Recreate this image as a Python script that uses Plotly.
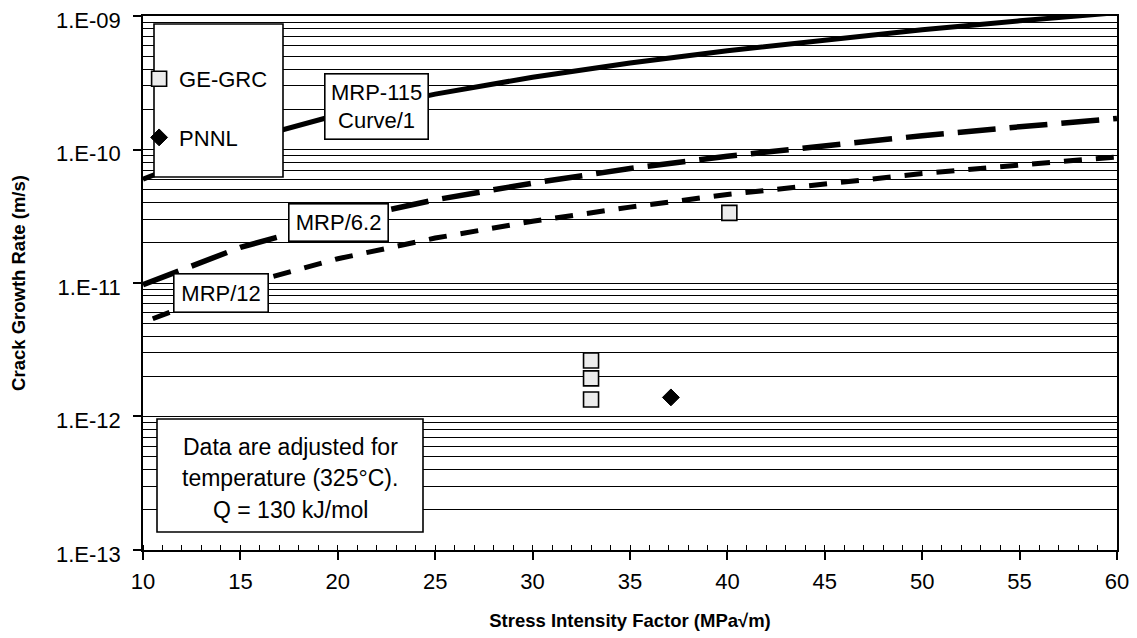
import plotly.graph_objects as go

# ---- data ----
k_curve = [10, 15, 20, 25, 30, 35, 40, 45, 50, 55, 60]
mrp115_rate = [6.0e-11, 1.15e-10, 1.82e-10, 2.6e-10, 3.48e-10, 4.45e-10,
               5.5e-10, 6.65e-10, 7.9e-10, 9.2e-10, 1.06e-9]
mrp62_rate = [9.7e-12, 1.85e-11, 2.93e-11, 4.2e-11, 5.6e-11, 7.2e-11,
              8.9e-11, 1.07e-10, 1.27e-10, 1.48e-10, 1.71e-10]
k_curve12 = [10.5, 15, 20, 25, 30, 35, 40, 45, 50, 55, 60]
mrp12_rate = [5.4e-12, 9.6e-12, 1.52e-11, 2.17e-11, 2.9e-11, 3.7e-11,
              4.6e-11, 5.55e-11, 6.6e-11, 7.65e-11, 8.8e-11]

ge_k = [33.0, 33.0, 33.0, 40.1]
ge_rate = [2.63e-12, 1.93e-12, 1.34e-12, 3.35e-11]
pnnl_k = [37.1]
pnnl_rate = [1.39e-12]

y_major_vals = [1e-13, 1e-12, 1e-11, 1e-10, 1e-9]
y_major_text = ["1.E-13", "1.E-12", "1.E-11", "1.E-10", "1.E-09"]
y_minor_vals = [m * 10.0 ** e for e in range(-13, -9) for m in range(2, 10)]

FONT = "Liberation Sans, Arial, sans-serif"

fig = go.Figure()
fig.add_trace(go.Scatter(x=k_curve, y=mrp115_rate, mode="lines",
                         line=dict(color="black", width=5), showlegend=False,
                         name="MRP-115 Curve/1"))
fig.add_trace(go.Scatter(x=k_curve, y=mrp62_rate, mode="lines",
                         line=dict(color="black", width=5.5, dash="38px,14px"),
                         showlegend=False, name="MRP/6.2"))
fig.add_trace(go.Scatter(x=k_curve12, y=mrp12_rate, mode="lines",
                         line=dict(color="black", width=5, dash="18px,14px"),
                         showlegend=False, name="MRP/12"))
fig.add_trace(go.Scatter(x=ge_k, y=ge_rate, mode="markers", name="GE-GRC",
                         legendgroup="a",
                         marker=dict(symbol="square", size=15, color="#ececec",
                                     line=dict(color="black", width=1.6))))
fig.add_trace(go.Scatter(x=pnnl_k, y=pnnl_rate, mode="markers", name="PNNL",
                         legendgroup="b",
                         marker=dict(symbol="diamond", size=13, color="black",
                                     line=dict(color="black", width=1))))

def px2x(p):
    return (p - 143) / 974.0

def py2y(p):
    return (550 - p) / 534.0

shapes = [
    dict(type="rect", xref="paper", yref="paper", x0=px2x(154), x1=px2x(283),
         y0=py2y(177), y1=py2y(24), line=dict(color="black", width=1.6),
         fillcolor="white", layer="above"),
    dict(type="rect", xref="paper", yref="paper", x0=px2x(157), x1=px2x(423),
         y0=py2y(532), y1=py2y(419), line=dict(color="black", width=1.6),
         fillcolor="white", layer="above"),
]

annotations = []
for txt, cx, cy, w, h in [("MRP-115<br>Curve/1", 376, 107, 100, 62),
                          ("MRP/6.2", 338, 222, 96, 34),
                          ("MRP/12", 220.5, 292.5, 91, 35)]:
    annotations.append(dict(text=txt, xref="paper", yref="paper", x=px2x(cx),
                            y=py2y(cy), showarrow=False, xanchor="center",
                            yanchor="middle", width=w, height=h, borderpad=1,
                            bordercolor="black", borderwidth=1.6, bgcolor="white",
                            font=dict(family=FONT, size=22, color="black")))
for txt, cy in [("Data are adjusted for", 447), ("temperature (325°C).", 478),
                ("Q = 130 kJ/mol", 510)]:
    annotations.append(dict(text=txt, xref="paper", yref="paper", x=px2x(290),
                            y=py2y(cy), showarrow=False, xanchor="center",
                            yanchor="middle",
                            font=dict(family=FONT, size=23, color="black")))

# the page body has an 8px margin, so the figure is 8px smaller in each direction
fig.update_layout(
    width=1129, height=630,
    margin=dict(l=135, r=20, t=8, b=88, autoexpand=False),
    paper_bgcolor="white", plot_bgcolor="white",
    font=dict(family=FONT, size=22, color="black"),
    shapes=shapes, annotations=annotations,
    legend=dict(x=-0.004, y=py2y(58), xanchor="left", yanchor="top",
                bgcolor="rgba(0,0,0,0)", borderwidth=0, tracegroupgap=27,
                font=dict(family=FONT, size=22, color="black")),
    xaxis=dict(range=[10, 60], tick0=10, dtick=5, ticks="outside", ticklen=8,
               tickwidth=1.6, tickcolor="black", showline=True, linecolor="black",
               linewidth=1.6, mirror=True, showgrid=False, zeroline=False,
               automargin=False, ticklabelstandoff=3, ticklabeloverflow="allow",
               minor=dict(dtick=1, ticks="inside", ticklen=5, tickwidth=1.3,
                          tickcolor="black", showgrid=False),
               tickfont=dict(family=FONT, size=22, color="black"),
               title=dict(text="<b>Stress Intensity Factor (MPa√m)</b>",
                          font=dict(family=FONT, size=18.5, color="black"),
                          standoff=21)),
    yaxis=dict(type="log", range=[-13.0001, -8.9999], tickmode="array",
               tickvals=y_major_vals, ticktext=y_major_text, ticks="outside",
               ticklen=8, tickwidth=1.6, tickcolor="black", showline=True,
               linecolor="black", linewidth=1.6, mirror=True, showgrid=True,
               gridcolor="black", gridwidth=1.3, zeroline=False,
               automargin=False, ticklabelstandoff=8, ticklabeloverflow="allow",
               ticklabelshift=4,
               minor=dict(tickmode="array", tickvals=y_minor_vals, ticks="inside",
                          ticklen=5, tickwidth=1.2, tickcolor="black", showgrid=True,
                          gridcolor="black", gridwidth=1.3),
               tickfont=dict(family=FONT, size=22, color="black"),
               title=dict(text="<b>Crack Growth Rate (m/s)</b>",
                          font=dict(family=FONT, size=18.5, color="black"),
                          standoff=27)),
)

fig.write_html("out.html")
